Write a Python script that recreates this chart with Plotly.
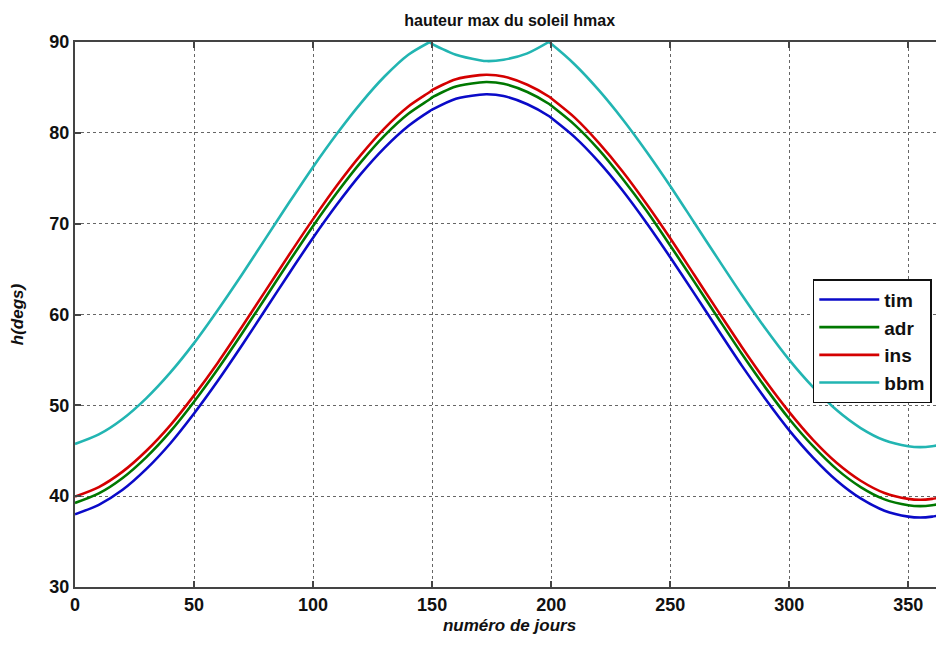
import plotly.graph_objects as go

# Day numbers (x) and read-off values of the maximum solar height (degrees)
days = [0, 10, 20, 30, 40, 50, 60, 70, 80, 90, 100, 110, 120, 130, 140, 149,
        150, 160, 170, 173, 180, 190, 199, 200, 210, 220, 230, 240, 250, 260,
        270, 280, 290, 300, 310, 320, 330, 340, 350, 355, 360, 365]

tim = [38.0, 39.05, 40.7, 43.0, 45.8, 49.1, 52.7, 56.55, 60.55, 64.55, 68.45, 72.1,
       75.45, 78.35, 80.75, 82.4, 82.55, 83.75, 84.2, 84.25, 84.05, 83.15, 81.85,
       81.65, 79.5, 76.8, 73.65, 70.1, 66.3, 62.35, 58.35, 54.4, 50.7, 47.25, 44.25,
       41.7, 39.75, 38.4, 37.75, 37.65, 37.75, 38.0]

adr = [39.25, 40.3, 42.0, 44.3, 47.1, 50.4, 54.0, 57.85, 61.85, 65.85, 69.75, 73.4,
       76.75, 79.7, 82.1, 83.7, 83.9, 85.1, 85.55, 85.6, 85.4, 84.5, 83.2,
       83.0, 80.85, 78.15, 74.95, 71.45, 67.6, 63.65, 59.65, 55.7, 51.95, 48.5, 45.5,
       42.95, 41.0, 39.65, 39.0, 38.9, 39.0, 39.25]

ins = [39.95, 41.0, 42.7, 45.0, 47.8, 51.1, 54.7, 58.6, 62.6, 66.6, 70.5, 74.2,
       77.55, 80.5, 82.9, 84.5, 84.7, 85.9, 86.35, 86.4, 86.2, 85.3, 84.0,
       83.8, 81.65, 78.9, 75.75, 72.2, 68.4, 64.4, 60.4, 56.45, 52.7, 49.25, 46.2,
       43.65, 41.7, 40.35, 39.7, 39.6, 39.7, 39.95]

bbm = [45.75, 46.8, 48.5, 50.8, 53.6, 56.85, 60.5, 64.35, 68.35, 72.35, 76.25, 79.9,
       83.25, 86.2, 88.6, 90.0, 89.8, 88.6, 88.0, 87.9, 88.05, 88.75, 90.0,
       89.8, 87.5, 84.7, 81.5, 77.95, 74.15, 70.15, 66.15, 62.2, 58.45, 55.0, 52.0,
       49.45, 47.5, 46.15, 45.5, 45.4, 45.5, 45.75]

# bbm is clipped/reflected at 90 deg: it has two sharp cusps at these days
bbm_cusp_days = [149, 199]

series_names = ["tim", "adr", "ins", "bbm"]
series_values = [tim, adr, ins, bbm]
colors = ["#0a0ac8", "#007800", "#d40000", "#22b5b2"]

x_ticks = [0, 50, 100, 150, 200, 250, 300, 350]
y_ticks = [30, 40, 50, 60, 70, 80, 90]

fig = go.Figure()
for name, vals, col in zip(series_names, series_values, colors):
    line = dict(color=col, width=2.6, shape="spline", smoothing=0.8)
    if name != "bbm":
        fig.add_trace(go.Scatter(x=days, y=vals, mode="lines", name=name,
                                 legendgroup=name, line=line))
    else:
        cut = [0] + [days.index(d) for d in bbm_cusp_days] + [len(days) - 1]
        for k in range(len(cut) - 1):
            a, b = cut[k], cut[k + 1]
            fig.add_trace(go.Scatter(x=days[a:b + 1], y=vals[a:b + 1], mode="lines",
                                     name=name, legendgroup=name,
                                     showlegend=(k == 0), line=line))

font_family = "Arial, Liberation Sans, sans-serif"
axis_common = dict(
    showline=True, linecolor="#444444", linewidth=2, mirror="ticks",
    ticks="inside", ticklen=6, tickcolor="#444444", tickwidth=2,
    showgrid=True, gridcolor="#666666", griddash="dot", gridwidth=1,
    zeroline=False, automargin=False,
    tickfont=dict(family=font_family, size=18, color="#111111", weight="bold"),
)

# the page body adds an 8px offset; the figure is sized to fit the window
fig.update_layout(
    width=936, height=638,
    margin=dict(l=67, r=0, t=34, b=59),
    paper_bgcolor="white", plot_bgcolor="white",
    title=dict(text="<b>hauteur max du soleil hmax</b>", x=0.536, xanchor="center",
               y=0.981, yanchor="middle",
               font=dict(family=font_family, size=16, color="#111111")),
    xaxis=dict(range=[0, 365], tickvals=x_ticks, ticktext=[str(v) for v in x_ticks],
               title=dict(text="<b><i>numéro de jours</i></b>", standoff=6,
                          font=dict(family=font_family, size=17, color="#111111")),
               **axis_common),
    yaxis=dict(range=[30, 90], tickvals=y_ticks, ticktext=[str(v) for v in y_ticks],
               title=dict(text="<b><i>h(degs)</i></b>", standoff=22,
                          font=dict(family=font_family, size=17, color="#111111")),
               **axis_common),
    legend=dict(x=0.849, y=0.565, xanchor="left", yanchor="top",
                bgcolor="white", bordercolor="#111111", borderwidth=1.5,
                font=dict(family=font_family, size=19, color="#111111", weight="bold"),
                itemwidth=60, tracegroupgap=0),
    showlegend=True,
)

fig.write_html("out.html")
